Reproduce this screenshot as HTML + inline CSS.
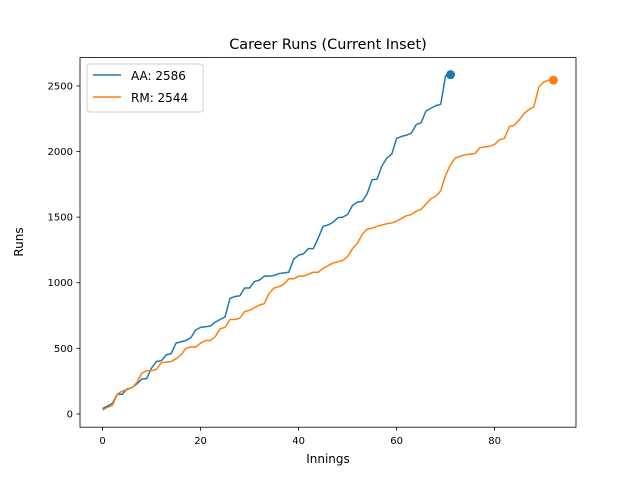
<!DOCTYPE html>
<html><head><meta charset="utf-8"><style>
body{margin:0;background:#fff;}
svg text{font-family:"DejaVu Sans","Liberation Sans",sans-serif;fill:#000;}
</style></head><body>
<svg id="chart" width="640" height="480" xmlns="http://www.w3.org/2000/svg">
<rect width="640" height="480" fill="#fff"/>
<text x="328" y="49" font-size="14.4" text-anchor="middle">Career Runs (Current Inset)</text>
<g id="axes"></g>
<g id="plot"></g>
<text x="328" y="463" font-size="12" text-anchor="middle">Innings</text>
<text x="23" y="242" font-size="12" text-anchor="middle" transform="rotate(-90 23 242)">Runs</text>
<g>
<rect x="87" y="64" width="116" height="48" rx="3" fill="#fff" stroke="#ccc" opacity="0.9"/>
<line x1="93" y1="75" x2="121" y2="75" stroke="#1f77b4" stroke-width="1.5"/>
<text x="131" y="80" font-size="12">AA: 2586</text>
<line x1="93" y1="97" x2="121" y2="97" stroke="#ff7f0e" stroke-width="1.5"/>
<text x="131" y="102" font-size="12">RM: 2544</text>
</g>
</svg>
<script>
const aaRuns=[40,60,80,150,150,190,200,230,265,270,350,400,405,450,460,540,550,560,580,640,660,665,670,700,720,740,880,895,900,960,960,1010,1020,1050,1050,1055,1070,1075,1080,1180,1210,1220,1260,1260,1340,1430,1440,1460,1495,1500,1520,1590,1615,1620,1680,1785,1790,1890,1950,1980,2100,2115,2125,2140,2205,2220,2310,2330,2350,2360,2580,2586];
const rmRuns=[30,50,65,150,175,185,200,240,310,330,330,340,390,395,400,420,450,500,510,510,540,560,560,590,650,660,720,720,730,780,790,810,830,840,920,960,970,990,1030,1030,1050,1050,1065,1080,1080,1110,1130,1150,1160,1170,1200,1260,1300,1370,1410,1415,1430,1440,1450,1455,1470,1490,1510,1520,1545,1560,1600,1640,1660,1700,1820,1900,1950,1965,1975,1980,1985,2030,2035,2040,2055,2090,2100,2190,2200,2240,2290,2320,2340,2490,2530,2544,2544];
const xTicks=[0,20,40,60,80];
const yTicks=[0,500,1000,1500,2000,2500];
const NS="http://www.w3.org/2000/svg";
const L=80,R=576,T=57.6,B=427.2;
const xMin=-4.6,xMax=96.6,yMin=-101,yMax=2716;
const sx=v=>L+(v-xMin)/(xMax-xMin)*(R-L);
const sy=v=>B-(v-yMin)/(yMax-yMin)*(B-T);
function mk(tag,attrs,parent){const e=document.createElementNS(NS,tag);for(const k in attrs)e.setAttribute(k,attrs[k]);parent.appendChild(e);return e;}
const axes=document.getElementById('axes'),plot=document.getElementById('plot');
const frame=mk('rect',{x:L,y:T,width:R-L,height:B-T,fill:'none',stroke:'#000','stroke-width':0.8},axes);


xTicks.forEach(t=>{
 const l=mk('line',{x1:sx(t),x2:sx(t),y1:B,y2:B+3.5,stroke:'#000','stroke-width':0.8},axes);
 
 
 const tx=mk('text',{x:sx(t),y:B+17,'font-size':10,'text-anchor':'middle'},axes);tx.textContent=t;
 
 
});
yTicks.forEach(t=>{
 const l=mk('line',{x1:L-3.5,x2:L,y1:sy(t),y2:sy(t),stroke:'#000','stroke-width':0.8},axes);
 
 
 const tx=mk('text',{x:L-7,y:sy(t)+3.5,'font-size':10,'text-anchor':'end'},axes);tx.textContent=t;
 
 
});
function series(data,color,name){
 const p=mk('polyline',{points:data.map((v,i)=>sx(i)+','+sy(v)).join(' '),fill:'none',stroke:color,'stroke-width':1.5,'stroke-linejoin':'round'},plot);
 
 
 const n=data.length-1;
 const c=mk('circle',{cx:sx(n),cy:sy(data[n]),r:4.5,fill:color},plot);
 
 
}
series(aaRuns,'#1f77b4','aa');
series(rmRuns,'#ff7f0e','rm');
</script>
</body></html>
